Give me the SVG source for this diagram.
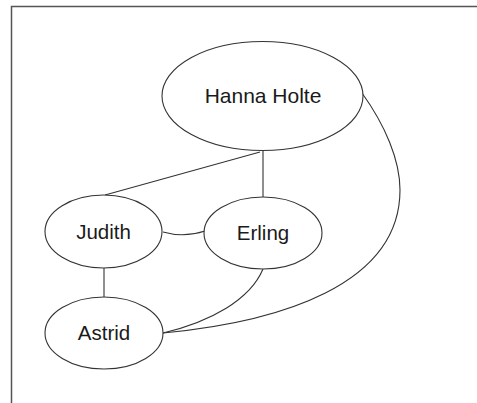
<svg xmlns="http://www.w3.org/2000/svg" width="477" height="403" viewBox="0 0 477 403">
<style>
.node ellipse{fill:#fff;stroke:#333;stroke-width:1.1}
.node text{font-family:"Liberation Sans",Arial,sans-serif;font-size:20.5px;fill:#1a1a1a;text-anchor:middle}
.edges path{fill:none;stroke:#333;stroke-width:1.1}
</style>
<rect width="477" height="403" fill="#fff"/>
<path d="M11.5,403 V6.5 H477" fill="none" stroke="#555" stroke-width="1.5"/>
<g class="edges" id="edges">
<path d="M260,152 L105,195"/>
<path d="M263,151 V197"/>
<path d="M163,232 Q184,238 205,231"/>
<path d="M104,268 V297"/>
<path d="M263,269 C250,300 210,322 163,333"/>
<path d="M362,93 C385,125 400,160 400,190 C400,285 280,322 163,333"/>
</g>
<g class="node" id="hanna"><ellipse cx="262.5" cy="96" rx="100.5" ry="54.5"/><text x="263" y="103" style="font-size:21px">Hanna Holte</text></g>
<g class="node" id="judith"><ellipse cx="103.5" cy="231.5" rx="58.5" ry="36.5"/><text x="103.5" y="239">Judith</text></g>
<g class="node" id="erling"><ellipse cx="263" cy="233" rx="59" ry="36"/><text x="263" y="240">Erling</text></g>
<g class="node" id="astrid"><ellipse cx="104" cy="333" rx="59" ry="36"/><text x="104" y="340">Astrid</text></g>
</svg>
